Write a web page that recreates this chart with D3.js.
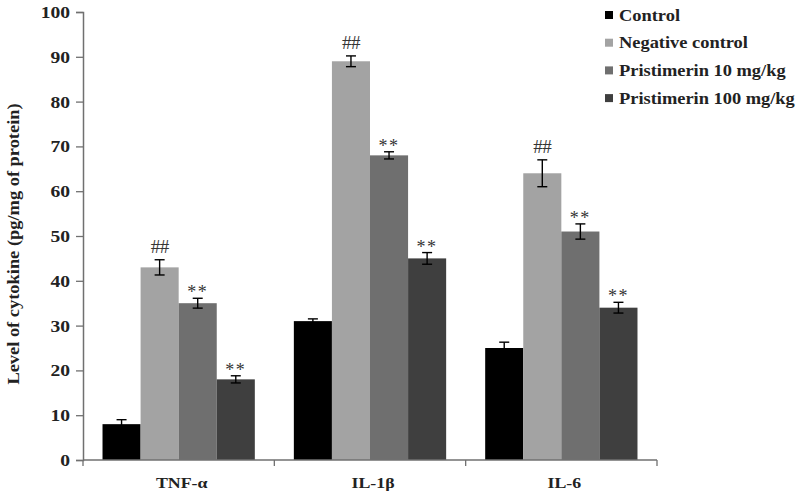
<!DOCTYPE html>
<html>
<head>
<meta charset="utf-8">
<script src="https://cdn.jsdelivr.net/npm/d3@7"></script>
<style>
body{margin:0;background:#fff}
svg{display:block}
text{font-family:"Liberation Serif","Times New Roman",serif}
</style>
</head>
<body>
<svg></svg>
<script>
var categories=["TNF-\u03b1","IL-1\u03b2","IL-6"]
var groups=["Control","Negative control","Pristimerin 10 mg/kg","Pristimerin 100 mg/kg"]
var control=[8,31,25]
var negative=[43,89,64]
var pris10=[35,68,51]
var pris100=[18,45,34]
var errControl=[1,0.5,1.3]
var errNegative=[1.7,1.2,3]
var errPris10=[1.1,0.8,1.7]
var errPris100=[0.8,1.3,1.2]
var marks=["","##","**","**"]
var yTicks=[0,10,20,30,40,50,60,70,80,90,100]
var colors=["#000000","#a3a3a3","#6f6f6f","#3f3f3f"]

var screen={width:800,height:496}
var margins={top:12,right:143,bottom:36,left:83}
var width=screen.width-margins.left-margins.right
var height=screen.height-margins.top-margins.bottom
var stretch=1.15

var svg=d3.select("svg")
  .attr("width",screen.width)
  .attr("height",screen.height)

var g=svg.append("g")
  .attr("transform","translate("+margins.left+","+margins.top+")")

var values=[control,negative,pris10,pris100]
var errs=[errControl,errNegative,errPris10,errPris100]

var xScale=d3.scaleBand().domain(categories).range([0,width])
var x1=d3.scaleBand().domain(groups)
  .range([xScale.bandwidth()*0.102,xScale.bandwidth()*0.898])
var yScale=d3.scaleLinear().domain([0,100]).range([height,0])

// bars
categories.forEach(function(cat,ci)
{
  groups.forEach(function(gr,gi)
  {
    var v=values[gi][ci]
    var e=errs[gi][ci]
    var x=xScale(cat)+x1(gr)
    var cx=x+x1.bandwidth()/2
    g.append("rect")
      .attr("x",x)
      .attr("y",yScale(v))
      .attr("width",x1.bandwidth())
      .attr("height",height-yScale(v))
      .attr("fill",colors[gi])
    var eg=g.append("g").attr("stroke","#000").attr("stroke-width",1.4)
    eg.append("line").attr("x1",cx).attr("x2",cx).attr("y1",yScale(v+e)).attr("y2",yScale(v-e))
    eg.append("line").attr("x1",cx-5).attr("x2",cx+5).attr("y1",yScale(v+e)).attr("y2",yScale(v+e))
    eg.append("line").attr("x1",cx-5).attr("x2",cx+5).attr("y1",yScale(v-e)).attr("y2",yScale(v-e))
    if(marks[gi])
    {
      var star=marks[gi]=="**"
      g.append("text")
        .attr("x",cx)
        .attr("y",yScale(v+e)-(star?0:7))
        .attr("text-anchor","middle")
        .attr("font-size",star?18:19)
        .attr("letter-spacing",star?1.5:-0.5)
        .attr("fill","#333")
        .attr("opacity",0.99)
        .text(marks[gi])
    }
  })
})

// axes
var yAxis=d3.axisLeft(yScale).tickValues(yTicks).tickSize(7).tickPadding(6)
var ya=g.append("g").call(yAxis)
ya.select(".domain").attr("stroke","#707070").attr("stroke-width",1.5)
ya.selectAll(".tick line").attr("stroke","#707070").attr("stroke-width",1.3)
ya.selectAll("text")
  .attr("class","st")
  .attr("font-size",17).attr("font-weight","bold").attr("fill","#222")
  .style("font-family","'Liberation Serif',serif")

var xa=g.append("g").attr("transform","translate(0,"+height+")")
xa.append("line").attr("x1",0).attr("x2",width).attr("y1",0).attr("y2",0)
  .attr("stroke","#707070").attr("stroke-width",1.5)
var bounds=categories.map(function(c){return xScale(c)}).concat([width])
xa.selectAll(".xt").data(bounds).enter().append("line")
  .attr("x1",function(d){return d}).attr("x2",function(d){return d})
  .attr("y1",0).attr("y2",6)
  .attr("stroke","#707070").attr("stroke-width",1.3)
xa.selectAll(".xl").data(categories).enter().append("text")
  .attr("class","st")
  .attr("x",function(d){return xScale(d)+xScale.bandwidth()/2+3})
  .attr("y",28)
  .attr("text-anchor","middle")
  .attr("font-size",15.5).attr("font-weight","bold").attr("fill","#222")
  .text(function(d){return d})

// y label
svg.append("text")
  .attr("class","st")
  .attr("transform","translate(19,"+(margins.top+height/2+8)+") rotate(-90)")
  .attr("text-anchor","middle")
  .attr("font-size",16).attr("font-weight","bold").attr("fill","#222")
  .text("Level of cytokine (pg/mg of protein)")

// legend
var lg=svg.append("g").attr("transform","translate(605,15)")
groups.forEach(function(gr,i)
{
  lg.append("rect").attr("x",0).attr("y",i*27.7-4).attr("width",8).attr("height",8).attr("fill",colors[i])
  lg.append("text").attr("class","st").attr("x",14).attr("y",i*27.7+5.5)
    .attr("font-size",16).attr("font-weight","bold").attr("fill","#222")
    .text(gr)
})

// reference text looks horizontally stretched
svg.selectAll("text.st").each(function()
{
  var len=this.getComputedTextLength()
  d3.select(this).attr("textLength",len*stretch).attr("lengthAdjust","spacingAndGlyphs")
})
</script>
</body>
</html>
